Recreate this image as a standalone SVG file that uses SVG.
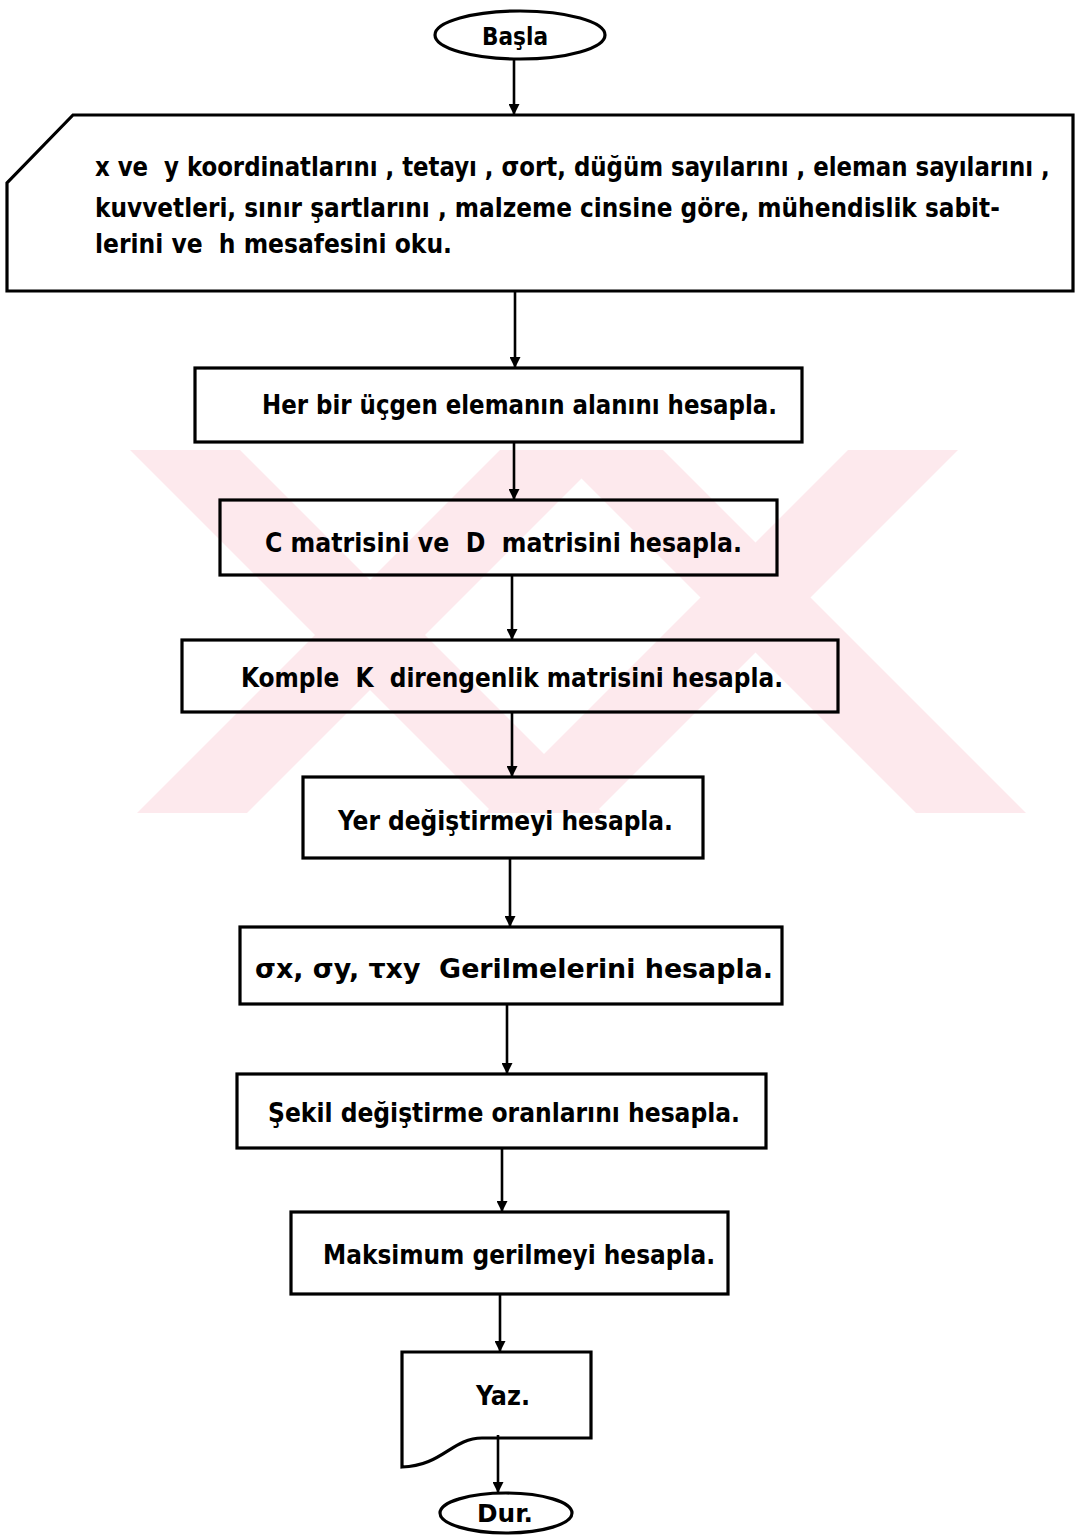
<svg xmlns="http://www.w3.org/2000/svg" width="1078" height="1537" viewBox="0 0 1078 1537">
  <defs>
    <style>
      .shape { fill: none; stroke: #000; stroke-width: 3.2; stroke-linejoin: miter; }
      .conn { fill: none; stroke: #000; stroke-width: 2.6; }
      .lbl { font-family: "DejaVu Sans Condensed", "Liberation Sans Narrow", "DejaVu Sans", sans-serif; font-weight: bold; font-size: 27px; fill: #000; white-space: pre; }
      .small { font-size: 25px; }
      .wm { fill: #fde9ed; }
    </style>
    <marker id="arrow" viewBox="0 0 10 10" refX="10" refY="5" markerWidth="14" markerHeight="11" markerUnits="userSpaceOnUse" orient="auto">
      <path d="M0,0 L10,5 L0,10 z" fill="#000"/>
    </marker>
  </defs>

  <rect width="1078" height="1537" fill="#fff"/>

  <!-- pale background mark behind the middle boxes -->
  <g id="backdrop">
    <polygon class="wm" points="130,450 240,450 603,813 493,813"/>
    <polygon class="wm" points="500,450 610,450 247,813 137,813"/>
    <polygon class="wm" points="553,450 663,450 1026,813 916,813"/>
    <polygon class="wm" points="848,450 958,450 595,813 485,813"/>
  </g>

  <!-- connectors -->
  <g id="connectors">
    <line class="conn" x1="514" y1="59" x2="514" y2="115" marker-end="url(#arrow)"/>
    <line class="conn" x1="515" y1="291" x2="515" y2="368" marker-end="url(#arrow)"/>
    <line class="conn" x1="514" y1="442" x2="514" y2="500" marker-end="url(#arrow)"/>
    <line class="conn" x1="512" y1="575" x2="512" y2="640" marker-end="url(#arrow)"/>
    <line class="conn" x1="512" y1="712" x2="512" y2="777" marker-end="url(#arrow)"/>
    <line class="conn" x1="510" y1="858" x2="510" y2="927" marker-end="url(#arrow)"/>
    <line class="conn" x1="507" y1="1004" x2="507" y2="1074" marker-end="url(#arrow)"/>
    <line class="conn" x1="502" y1="1148" x2="502" y2="1212" marker-end="url(#arrow)"/>
    <line class="conn" x1="500" y1="1294" x2="500" y2="1352" marker-end="url(#arrow)"/>
    <line class="conn" x1="498" y1="1435" x2="498" y2="1493" marker-end="url(#arrow)"/>
  </g>

  <g id="start">
    <ellipse class="shape" cx="520" cy="35" rx="85" ry="24"/>
    <text class="lbl small" x="482" y="45" textLength="66" lengthAdjust="spacingAndGlyphs">Başla</text>
  </g>

  <g id="input">
    <path class="shape" d="M73,115 H1073 V291 H7 V183 Z"/>
    <!-- long first line: narrowed horizontally so it stays inside the frame -->
    <text class="lbl" transform="translate(95,176) scale(0.72,1)" x="0" y="0" textLength="1326" lengthAdjust="spacingAndGlyphs">x ve  y koordinatlarını , tetayı , σort, düğüm sayılarını , eleman sayılarını ,</text>
    <text class="lbl" transform="translate(95,217) scale(0.78,1)" x="0" y="0" textLength="1160" lengthAdjust="spacingAndGlyphs">kuvvetleri, sınır şartlarını , malzeme cinsine göre, mühendislik sabit-</text>
    <text class="lbl" x="95" y="253" textLength="357" lengthAdjust="spacingAndGlyphs">lerini ve  h mesafesini oku.</text>
  </g>

  <g id="area">
    <rect class="shape" x="195" y="368" width="607" height="74"/>
    <text class="lbl" x="262" y="414" textLength="515" lengthAdjust="spacingAndGlyphs">Her bir üçgen elemanın alanını hesapla.</text>
  </g>

  <g id="cd-matrix">
    <rect class="shape" x="220" y="500" width="557" height="75"/>
    <text class="lbl" x="265" y="552" textLength="477" lengthAdjust="spacingAndGlyphs">C matrisini ve  D  matrisini hesapla.</text>
  </g>

  <g id="k-matrix">
    <rect class="shape" x="182" y="640" width="656" height="72"/>
    <text class="lbl" x="241" y="687" textLength="542" lengthAdjust="spacingAndGlyphs">Komple  K  direngenlik matrisini hesapla.</text>
  </g>

  <g id="displacement">
    <rect class="shape" x="303" y="777" width="400" height="81"/>
    <text class="lbl" x="338" y="830" textLength="335" lengthAdjust="spacingAndGlyphs">Yer değiştirmeyi hesapla.</text>
  </g>

  <g id="stress">
    <rect class="shape" x="240" y="927" width="542" height="77"/>
    <text class="lbl" x="255" y="978" textLength="518" lengthAdjust="spacingAndGlyphs">σx, σy, τxy  Gerilmelerini hesapla.</text>
  </g>

  <g id="strain">
    <rect class="shape" x="237" y="1074" width="529" height="74"/>
    <text class="lbl" x="268" y="1122" textLength="472" lengthAdjust="spacingAndGlyphs">Şekil değiştirme oranlarını hesapla.</text>
  </g>

  <g id="max-stress">
    <rect class="shape" x="291" y="1212" width="437" height="82"/>
    <text class="lbl" x="323" y="1264" textLength="392" lengthAdjust="spacingAndGlyphs">Maksimum gerilmeyi hesapla.</text>
  </g>

  <g id="output">
    <path class="shape" d="M402,1352 H591 V1438 H482 C452,1438 442,1466 402,1467 Z"/>
    <text class="lbl" x="476" y="1405" textLength="54" lengthAdjust="spacingAndGlyphs">Yaz.</text>
  </g>

  <g id="stop">
    <ellipse class="shape" cx="506" cy="1513" rx="66" ry="20"/>
    <text class="lbl small" x="477" y="1522" textLength="56" lengthAdjust="spacingAndGlyphs">Dur.</text>
  </g>
</svg>
